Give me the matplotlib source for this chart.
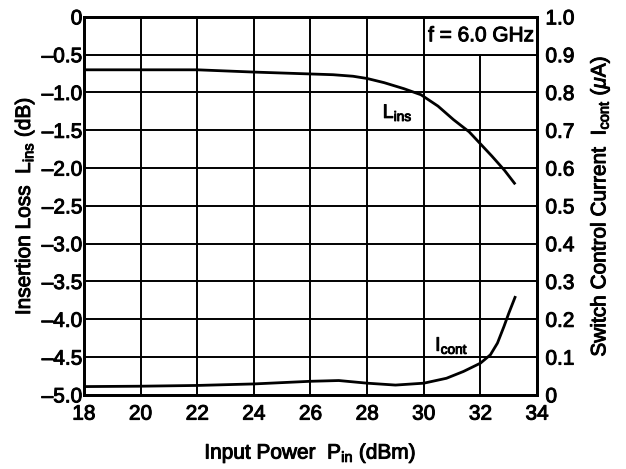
import numpy as np
import matplotlib
matplotlib.use("Agg")
import matplotlib.pyplot as plt
import matplotlib.patheffects as pe
from matplotlib.patches import Rectangle

plt.rcParams['font.family'] = ['Liberation Sans', 'DejaVu Sans']
plt.rcParams['mathtext.fontset'] = 'custom'
plt.rcParams['mathtext.rm'] = 'Liberation Sans'
plt.rcParams['mathtext.it'] = 'Liberation Sans:italic'

# insertion loss (dB) vs input power (dBm)
pin_l = [18, 20, 22, 24, 26, 26.8, 27.5, 28, 28.6, 29.3, 29.9, 30.5, 31.05, 31.6, 32, 32.4, 32.85, 33.2]
lins = [-0.70, -0.70, -0.70, -0.73, -0.755, -0.765, -0.785, -0.815, -0.87, -0.95, -1.03, -1.18, -1.36, -1.52, -1.68, -1.84, -2.03, -2.20]

# switch control current (uA)
pin_i = [18, 20, 22, 24, 26, 27, 28, 29, 30, 30.8, 31.4, 32, 32.35, 32.6, 32.83, 33.0, 33.22]
icont = [0.022, 0.023, 0.025, 0.029, 0.036, 0.038, 0.031, 0.026, 0.031, 0.044, 0.062, 0.084, 0.106, 0.137, 0.181, 0.216, 0.258]

xticks = [18, 20, 22, 24, 26, 28, 30, 32, 34]
lticks = [0, -0.5, -1.0, -1.5, -2.0, -2.5, -3.0, -3.5, -4.0, -4.5, -5.0]
rticks = [0, 0.1, 0.2, 0.3, 0.4, 0.5, 0.6, 0.7, 0.8, 0.9, 1.0]

heavy = [pe.withStroke(linewidth=0.7, foreground='black')]

fig = plt.figure(figsize=(6.26, 4.69), dpi=100)
ax = fig.add_axes([0.134, 0.158, 0.724, 0.806])
ax2 = ax.twinx()

fs = 15
ax.set_xlim(18, 34)
ax.set_ylim(-5.0, 0)
ax2.set_ylim(0, 1.0)

ax.set_xticks(xticks)
ax.set_xticklabels([str(t) for t in xticks], fontsize=fs)
ax.set_yticks(lticks)
ax.set_yticklabels(['0'] + ['\u2013%.1f' % abs(t) for t in lticks[1:]], fontsize=fs)
ax2.set_yticks(rticks)
ax2.set_yticklabels(['0'] + ['%.1f' % t for t in rticks[1:]], fontsize=fs)

ax.grid(True, color='black', linewidth=1.4)
ax.set_axisbelow(True)
ax.tick_params(axis='y', length=0, pad=1)
ax.tick_params(axis='x', length=0, pad=7)
ax2.tick_params(length=0, pad=6)
for a in (ax, ax2):
    for s in a.spines.values():
        s.set_linewidth(2.0)

# box behind the frequency note
ax.add_patch(Rectangle((30, -0.5), 4, 0.5, facecolor='white', edgecolor='black',
                       linewidth=1.4, zorder=1))
ax.text(32.02, -0.25, 'f = 6.0 GHz', fontsize=fs, ha='center', va='center', zorder=3,
        path_effects=heavy)

ax.plot(pin_l, lins, color='black', linewidth=2.0, zorder=4)
ax2.plot(pin_i, icont, color='black', linewidth=2.0, zorder=4)

ax.text(28.55, -1.27, r'L$_{\mathrm{ins}}$', fontsize=14, ha='left', va='center',
        path_effects=heavy)
ax2.text(30.4, 0.13, r'I$_{\mathrm{cont}}$', fontsize=14, ha='left', va='center',
         path_effects=heavy)

ax.set_xlabel(r'Input Power  P$_{\mathrm{in}}$ (dBm)', fontsize=fs, labelpad=13,
              path_effects=heavy)
ax.set_ylabel(r'Insertion Loss  L$_{\mathrm{ins}}$ (dB)', fontsize=fs, labelpad=4,
              path_effects=heavy)
ax2.set_ylabel(r'Switch Control Current  I$_{\mathrm{cont}}$ ($\mu$A)', fontsize=fs,
               labelpad=10, path_effects=heavy)

for lab in ax.get_xticklabels() + ax.get_yticklabels() + ax2.get_yticklabels():
    lab.set_path_effects(heavy)

fig.savefig('out.png', dpi=100)
